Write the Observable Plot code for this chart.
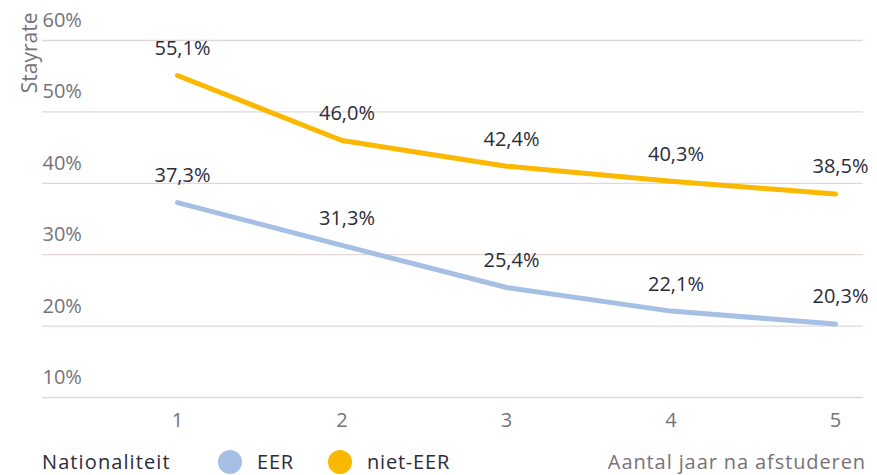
<!DOCTYPE html>
<html>
<head>
<meta charset="utf-8">
<script src="https://cdn.jsdelivr.net/npm/d3@7"></script>
<script src="https://cdn.jsdelivr.net/npm/@observablehq/plot@0.6"></script>
<style>
  body { margin: 0; background: #fff; font-family: "Open Sans", Lato, sans-serif; }
  #wrap { width: 877px; position: relative; }
  .bottom { position: relative; height: 27px; font-size: 20px; }
  .bottom > span { position: absolute; top: 50%; transform: translateY(-50%); white-space: nowrap; line-height: 1; }
  .legtitle { color: #2b2b3a; left: 42px; letter-spacing: 1.1px; }
  .sw { width: 24px; height: 24px; border-radius: 50%; }
  .lab { color: #2b2b3a; letter-spacing: 0.8px; }
  .xlabel { right: 11px; color: #77727a; letter-spacing: 0.9px; }
</style>
</head>
<body>
<div id="wrap"></div>
<script>
const years = [1, 2, 3, 4, 5];
const seriesNames = ["EER", "niet-EER"];
const eer = [37.3, 31.3, 25.4, 22.1, 20.3];
const nietEer = [55.1, 46.0, 42.4, 40.3, 38.5];
const yTicks = [10, 20, 30, 40, 50, 60];
const colors = ["#a6bfe4", "#fbb800"];
const yLabel = "Stayrate";
const xLabel = "Aantal jaar na afstuderen";
const legendTitle = "Nationaliteit";

const data = [];
years.forEach((y, i) => {
  data.push({year: y, value: eer[i], serie: seriesNames[0]});
  data.push({year: y, value: nietEer[i], serie: seriesNames[1]});
});
const fmt = v => v.toFixed(1).replace(".", ",") + "%";

const chart = Plot.plot({
  width: 877,
  height: 448,
  marginLeft: 42,
  marginRight: 14,
  marginTop: 40,
  marginBottom: 51,
  style: {fontFamily: "'Open Sans', Lato, sans-serif", fontSize: "20px", color: "#77727a", background: "#fff"},
  x: {domain: [1, 5], insetLeft: 135, insetRight: 28},
  y: {domain: [10, 60]},
  color: {domain: seriesNames, range: colors},
  marks: [
    Plot.gridY(yTicks, {stroke: "#e2d9d6", strokeOpacity: 1, strokeWidth: 1.3}),
    Plot.axisY(yTicks, {tickSize: 0, tickPadding: 0, textAnchor: "start", dy: -20, tickFormat: d => d + "%", fill: "#77727a", fontSize: 20, label: null}),
    Plot.axisX(years, {tickSize: 0, tickPadding: 15, tickFormat: d => String(d), fill: "#77727a", fontSize: 20, label: null}),
    Plot.text([yLabel], {frameAnchor: "top-left", rotate: -90, textAnchor: "end", dx: -20, dy: -28, fill: "#77727a", fontSize: 21, letterSpacing: 2.6}),
    Plot.line(data, {x: "year", y: "value", stroke: "serie", z: "serie", strokeWidth: 5, curve: "linear", strokeLinecap: "round", strokeLinejoin: "round"}),
    Plot.text(data, {x: "year", y: "value", text: d => fmt(d.value), dx: 5, dy: -27, fill: "#2b2b3a", fontSize: 20})
  ]
});
document.getElementById("wrap").appendChild(chart);

const bottom = document.createElement("div");
bottom.className = "bottom";
const swLeft = [218, 328];
const labLeft = [257, 367];
let html = `<span class="legtitle">${legendTitle}</span>`;
seriesNames.forEach((s, i) => {
  html += `<span class="sw" style="left:${swLeft[i]}px;background:${colors[i]}"></span>`;
  html += `<span class="lab" style="left:${labLeft[i]}px">${s}</span>`;
});
html += `<span class="xlabel">${xLabel}</span>`;
bottom.innerHTML = html;
document.getElementById("wrap").appendChild(bottom);
</script>
</body>
</html>
